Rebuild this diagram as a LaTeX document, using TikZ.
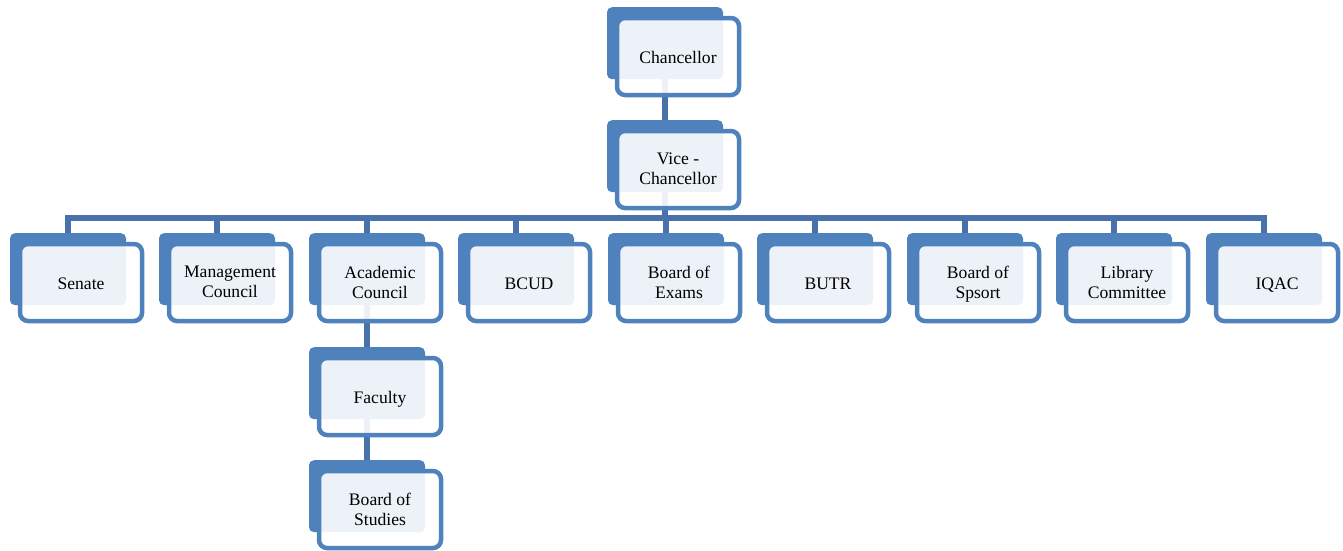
\documentclass[tikz,border=0pt]{standalone}
\usepackage{fontspec}
\setmainfont{Liberation Serif}
\definecolor{backblue}{HTML}{4F81BD}
\definecolor{linkblue}{HTML}{4A72AA}
\tikzset{
  backbox/.style={rectangle, rounded corners=5pt, fill=backblue, draw=none,
    minimum width=116pt, minimum height=72pt, anchor=north, inner sep=0pt},
  frontbox/.style={rectangle, rounded corners=8pt, draw=backblue, line width=4.5pt,
    fill=white, fill opacity=0.9, minimum width=122pt, minimum height=77pt, inner sep=0pt},
  unittext/.style={align=center, inner sep=0pt, font=\fontsize{17.6}{20}\selectfont,
    execute at begin node=\strut, execute at end node=\strut},
  conn/.style={draw=linkblue, line width=5.5pt}
}
\usetikzlibrary{calc}
\newcommand{\orgunit}[4]{%
  \node[backbox] (#1b) at (#2pt,-#3pt) {};
  \node[frontbox] (#1) at ($(#1b.north)+(13pt,-49.5pt)$) {};
  \node[unittext] (#1t) at ($(#1.center)+(0,-2.5pt)$) {#4};}
\begin{document}
\begin{tikzpicture}[x=1pt,y=1pt]
\useasboundingbox (0,0) rectangle (1343,-550);
\coordinate (bus) at (0,-218);
\foreach \n/\x/\t in {chan/665/7, vice/665/120, sen/68/233, man/217/233, aca/367/233,
  bcud/516/233, boe/666/233, butr/815/233, bos/965/233, lib/1114/233, iqac/1264/233,
  fac/367/347, bst/367/460}{
  \coordinate (\n n) at (\x,-\t);
  \coordinate (\n s) at (\x,-\t-72);
}
\draw[conn] (chans) -- (vicen);
\foreach \b in {sen,man,aca,bcud,boe,butr,bos,lib,iqac}{
  \draw[conn] (vices) -- (vices |- bus) -| (\b n);
}
\draw[conn] (acas) -- (facn);
\draw[conn] (facs) -- (bstn);
\orgunit{chan}{665}{7}{Chancellor}
\orgunit{vice}{665}{120}{Vice -\\Chancellor}
\orgunit{sen}{68}{233}{Senate}
\orgunit{man}{217}{233}{Management\\Council}
\orgunit{aca}{367}{233}{Academic\\Council}
\orgunit{bcud}{516}{233}{BCUD}
\orgunit{boe}{666}{233}{Board of\\Exams}
\orgunit{butr}{815}{233}{BUTR}
\orgunit{bos}{965}{233}{Board of\\Spsort}
\orgunit{lib}{1114}{233}{Library\\Committee}
\orgunit{iqac}{1264}{233}{IQAC}
\orgunit{fac}{367}{347}{Faculty}
\orgunit{bst}{367}{460}{Board of\\Studies}
\end{tikzpicture}
\end{document}
